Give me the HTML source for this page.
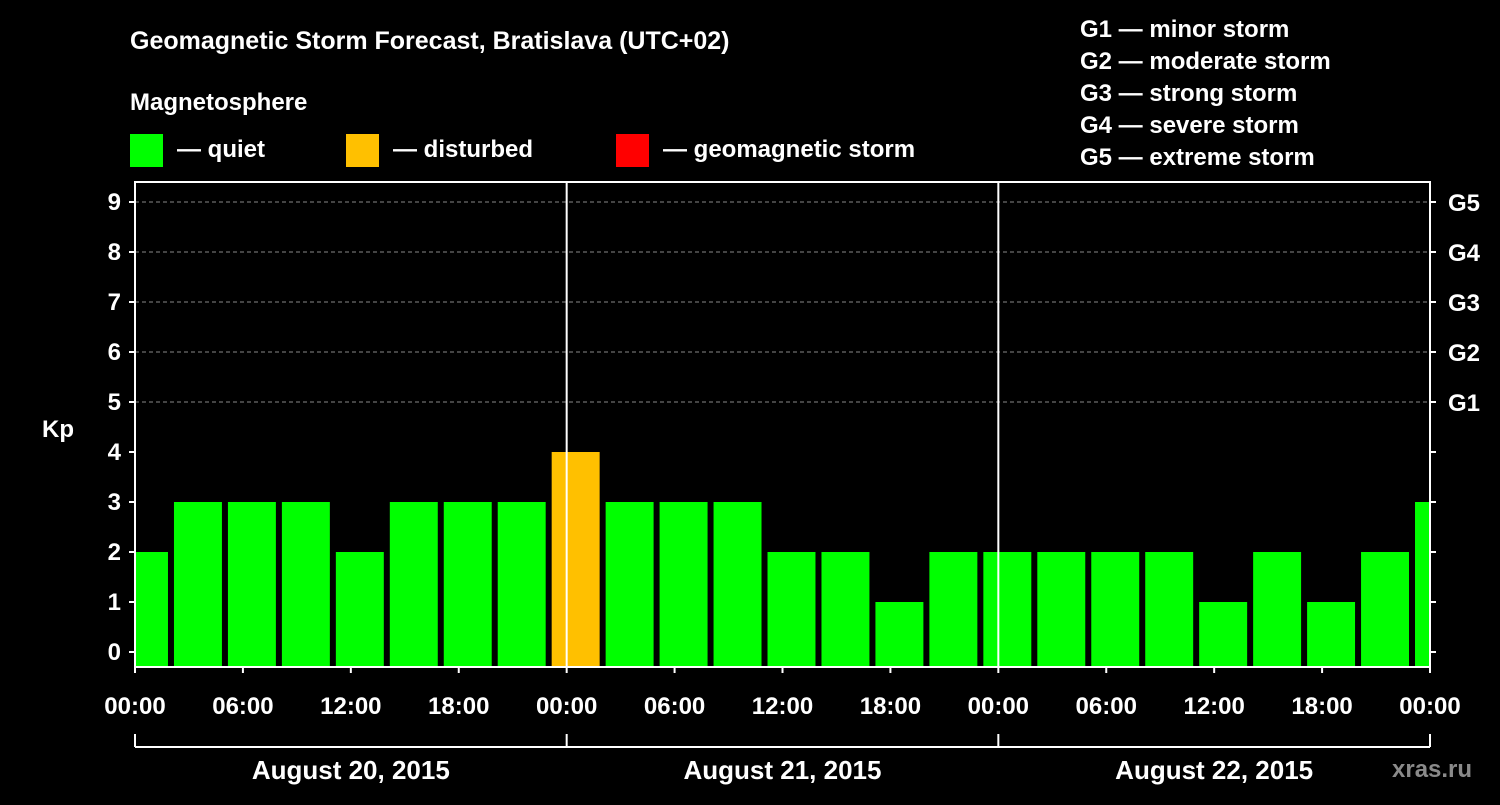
<!DOCTYPE html>
<html><head><meta charset="utf-8"><style>
body{margin:0;background:#000;width:1500px;height:800px;overflow:hidden}
svg text{font-family:"Liberation Sans",Arial,sans-serif;font-weight:bold;fill:#fff}
</style></head><body>
<svg id="c" width="1500" height="800" xmlns="http://www.w3.org/2000/svg">
<text x="130" y="49" font-size="25">Geomagnetic Storm Forecast, Bratislava (UTC+02)</text>
<text x="130" y="110" font-size="24">Magnetosphere</text>
<g><rect x="130" y="134" width="33" height="33" fill="#00ff00"/><text x="177" y="157" font-size="24">— quiet</text></g>
<g><rect x="346" y="134" width="33" height="33" fill="#ffc000"/><text x="393" y="157" font-size="24">— disturbed</text></g>
<g><rect x="616" y="134" width="33" height="33" fill="#ff0000"/><text x="663" y="157" font-size="24">— geomagnetic storm</text></g>
<g font-size="24">
<text x="1080" y="37">G1 — minor storm</text><text x="1080" y="69">G2 — moderate storm</text><text x="1080" y="101">G3 — strong storm</text><text x="1080" y="133">G4 — severe storm</text><text x="1080" y="165">G5 — extreme storm</text></g>
<text x="42" y="437" font-size="24">Kp</text>
<text x="1392" y="777" font-size="24" fill="#888" style="fill:#8a8a8a">xras.ru</text>
<g id="plot"></g>
</svg>
<script>
const slotStartHours=[-1,2,5,8,11,14,17,20,23,26,29,32,35,38,41,44,47,50,53,56,59,62,65,68,71];
const kpValues=[2,3,3,3,2,3,3,3,4,3,3,3,2,2,1,2,2,2,2,2,1,2,1,2,3];
const xTickLabels=["00:00","06:00","12:00","18:00","00:00","06:00","12:00","18:00","00:00","06:00","12:00","18:00","00:00"];
const dayLabels=["August 20, 2015","August 21, 2015","August 22, 2015"];
const gLabels=["G1","G2","G3","G4","G5"];
const L=135,R=1430,T=182,B=667;
const x=h=>L+(R-L)*h/72;
const y=v=>652-50*v;
const g=document.getElementById('plot');
const NS="http://www.w3.org/2000/svg";
function mk(t,a){const e=document.createElementNS(NS,t);for(const k in a)e.setAttribute(k,a[k]);g.appendChild(e);return e;}
// grid
for(let v=5;v<=9;v++){const e=mk('line',{x1:L,x2:R,y1:y(v),y2:y(v),stroke:'#888','stroke-dasharray':'4,3','stroke-width':1});

}
// bars
slotStartHours.forEach((h,i)=>{const v=kpValues[i];
const x0=Math.max(L,x(h)+3),x1=Math.min(R,x(h+3)-3);
const col=v>=5?'#ff0000':(v>=4?'#ffc000':'#00ff00');
const e=mk('rect',{x:x0,y:y(v),width:x1-x0,height:B-y(v),fill:col});

});
// day separators
[24,48].forEach(h=>{const e=mk('line',{x1:x(h),x2:x(h),y1:T,y2:B,stroke:'#fff','stroke-width':2});

});
// frame
const f=mk('rect',{x:L,y:T,width:R-L,height:B-T,fill:'none',stroke:'#fff','stroke-width':2});


// y ticks
for(let v=0;v<=9;v++){
mk('line',{x1:L-6,x2:L,y1:y(v),y2:y(v),stroke:'#fff','stroke-width':2});
mk('line',{x1:R,x2:R+6,y1:y(v),y2:y(v),stroke:'#fff','stroke-width':2});
const t=mk('text',{x:L-14,y:y(v)+8,'font-size':24,'text-anchor':'end'});t.textContent=v;


if(v>=5){const s=mk('text',{x:R+18,y:y(v)+9,'font-size':24});s.textContent=gLabels[v-5];

}}
// x ticks
xTickLabels.forEach((lab,i)=>{const xx=x(i*6);
mk('line',{x1:xx,x2:xx,y1:B,y2:B+6,stroke:'#fff','stroke-width':2});
const t=mk('text',{x:xx,y:714,'font-size':24,'text-anchor':'middle'});t.textContent=lab;

});
// day bracket
mk('line',{x1:L,x2:R,y1:747,y2:747,stroke:'#fff','stroke-width':2});
[0,24,48,72].forEach(h=>mk('line',{x1:x(h),x2:x(h),y1:734,y2:747,stroke:'#fff','stroke-width':2}));
dayLabels.forEach((d,i)=>{const t=mk('text',{x:x(i*24+12),y:779,'font-size':26,'text-anchor':'middle'});t.textContent=d;

});
</script>
</body></html>
